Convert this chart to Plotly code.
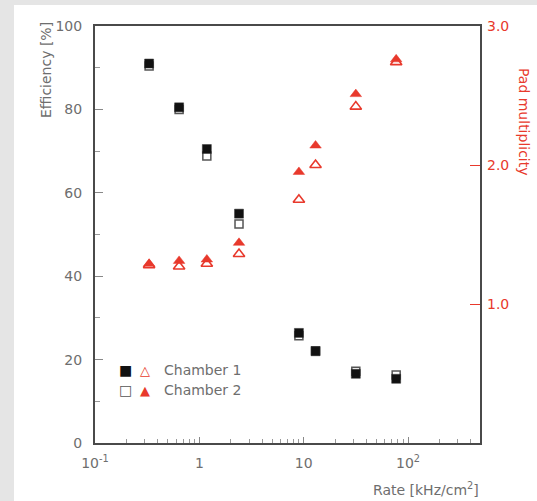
import plotly.graph_objects as go

# ---- data ----
rate = [0.33, 0.64, 1.18, 2.4, 9.0, 13.0, 31.6, 77.0]
eff_ch1 = [91.0, 80.5, 70.5, 55.0, 26.4, 22.0, 16.6, 15.4]
eff_ch2 = [90.4, 80.0, 68.8, 52.5, 25.7, 22.1, 17.2, 16.3]
pad_ch1 = [1.28, 1.27, 1.29, 1.36, 1.75, 2.00, 2.42, 2.74]
pad_ch2 = [1.29, 1.31, 1.32, 1.44, 1.95, 2.14, 2.51, 2.76]

x_tickvals = [0.1, 1, 10, 100]
x_ticktext = ["10<sup>-1</sup>", "1", "10", "10<sup>2</sup>"]
x_minorvals = [m * d for d in (0.1, 1, 10) for m in range(2, 10)] + [200, 300, 400]
y_tickvals = [0, 20, 40, 60, 80, 100]
y2_tickvals = [1, 2, 3]
y2_ticktext = ["1.0", "2.0", "3.0"]
legend_labels = ["Chamber 1", "Chamber 2"]

W, H = 537, 501
L, R, T, B = 95, 57, 26, 58
PW, PH = W - L - R, H - T - B

RED = "#e8392c"
GRAY = "#6e6e6e"
AX = "#4a4a4a"
FONT = "DejaVu Sans"


def px(xpix):
    return (xpix - L) / PW


def py(ypix):
    return (H - B - ypix) / PH


fig = go.Figure()

# efficiency
fig.add_trace(go.Scatter(x=rate, y=eff_ch2, mode="markers", name="Chamber 2",
                         marker=dict(symbol="square", size=8, color="white",
                                     line=dict(color="#555555", width=1.5))))
fig.add_trace(go.Scatter(x=rate, y=eff_ch1, mode="markers", name="Chamber 1",
                         marker=dict(symbol="square", size=9, color="#111111",
                                     line=dict(color="#333333", width=0.5))))
# pad multiplicity
fig.add_trace(go.Scatter(x=rate, y=pad_ch2, mode="markers", yaxis="y2", name="Chamber 2",
                         marker=dict(symbol="triangle-up", size=10, color=RED,
                                     line=dict(color=RED, width=0.5))))
fig.add_trace(go.Scatter(x=rate, y=pad_ch1, mode="markers", yaxis="y2", name="Chamber 1",
                         marker=dict(symbol="triangle-up-open", size=10, color=RED,
                                     line=dict(color=RED, width=1.6))))

annotations = [
    dict(text="Efficiency [%]", xref="paper", yref="paper", x=px(46), y=py(20),
         xanchor="center", yanchor="top", textangle=-90, showarrow=False,
         font=dict(family=FONT, size=14, color=GRAY)),
    dict(text="Pad multiplicity", xref="paper", yref="paper", x=px(524), y=py(66),
         xanchor="center", yanchor="top", textangle=90, showarrow=False,
         font=dict(family=FONT, size=14, color=RED)),
    dict(text="Rate [kHz/cm<sup>2</sup>]", xref="paper", yref="paper", x=px(481), y=py(489),
         xanchor="right", yanchor="middle", showarrow=False,
         font=dict(family=FONT, size=14, color=GRAY)),
]
rows = [(370, "■", "#111111", "△", RED, legend_labels[0]),
        (390, "□", "#555555", "▲", RED, legend_labels[1])]
for ypix, s1, c1, s2, c2, lab in rows:
    annotations.append(dict(text=s1, xref="paper", yref="paper", x=px(125), y=py(ypix),
                            xanchor="center", yanchor="middle", showarrow=False,
                            font=dict(family=FONT, size=14, color=c1)))
    annotations.append(dict(text=s2, xref="paper", yref="paper", x=px(145), y=py(ypix),
                            xanchor="center", yanchor="middle", showarrow=False,
                            font=dict(family=FONT, size=13, color=c2)))
    annotations.append(dict(text=lab, xref="paper", yref="paper", x=px(162), y=py(ypix),
                            xanchor="left", yanchor="middle", showarrow=False,
                            font=dict(family=FONT, size=14, color=GRAY)))

fig.update_layout(
    width=W, height=H,
    margin=dict(l=L, r=R, t=T, b=B, pad=0),
    paper_bgcolor="#e5e5e5",
    plot_bgcolor="white",
    showlegend=False,
    font=dict(family=FONT, size=14, color=GRAY),
    shapes=[dict(type="rect", xref="paper", yref="paper", layer="below",
                 x0=px(14), x1=px(W + 2), y0=py(H + 2), y1=py(5),
                 fillcolor="white", line=dict(width=0))],
    annotations=annotations,
    xaxis=dict(type="log", range=[-1, 2.69], showgrid=False, zeroline=False,
               showline=True, linecolor=AX, linewidth=2, mirror=True,
               tickvals=x_tickvals, ticktext=x_ticktext,
               ticks="inside", ticklen=6, tickcolor="#888888", tickwidth=1,
               ticklabelstandoff=6,
               minor=dict(tickvals=x_minorvals, ticks="inside", ticklen=4,
                          tickcolor="#999999", tickwidth=1, showgrid=False),
               tickfont=dict(family=FONT, size=14, color=GRAY)),
    yaxis=dict(range=[0, 100], showgrid=False, zeroline=False,
               showline=True, linecolor=AX, linewidth=2, mirror=True,
               tickvals=y_tickvals, ticks="inside", ticklen=8,
               tickcolor="#888888", tickwidth=1, ticklabelstandoff=8,
               minor=dict(dtick=10, ticks="inside", ticklen=5,
                          tickcolor="#999999", tickwidth=1, showgrid=False),
               tickfont=dict(family=FONT, size=14, color=GRAY)),
    yaxis2=dict(range=[0, 3], overlaying="y", side="right", showgrid=False,
                zeroline=False, showline=False,
                tickvals=y2_tickvals, ticktext=y2_ticktext,
                ticks="inside", ticklen=10, tickcolor=RED, tickwidth=1,
                ticklabelstandoff=6,
                tickfont=dict(family=FONT, size=14, color=RED)),
)

fig.write_html("out.html", config={"displayModeBar": False},
               post_script="document.body.style.margin='0';document.body.style.padding='0';")
